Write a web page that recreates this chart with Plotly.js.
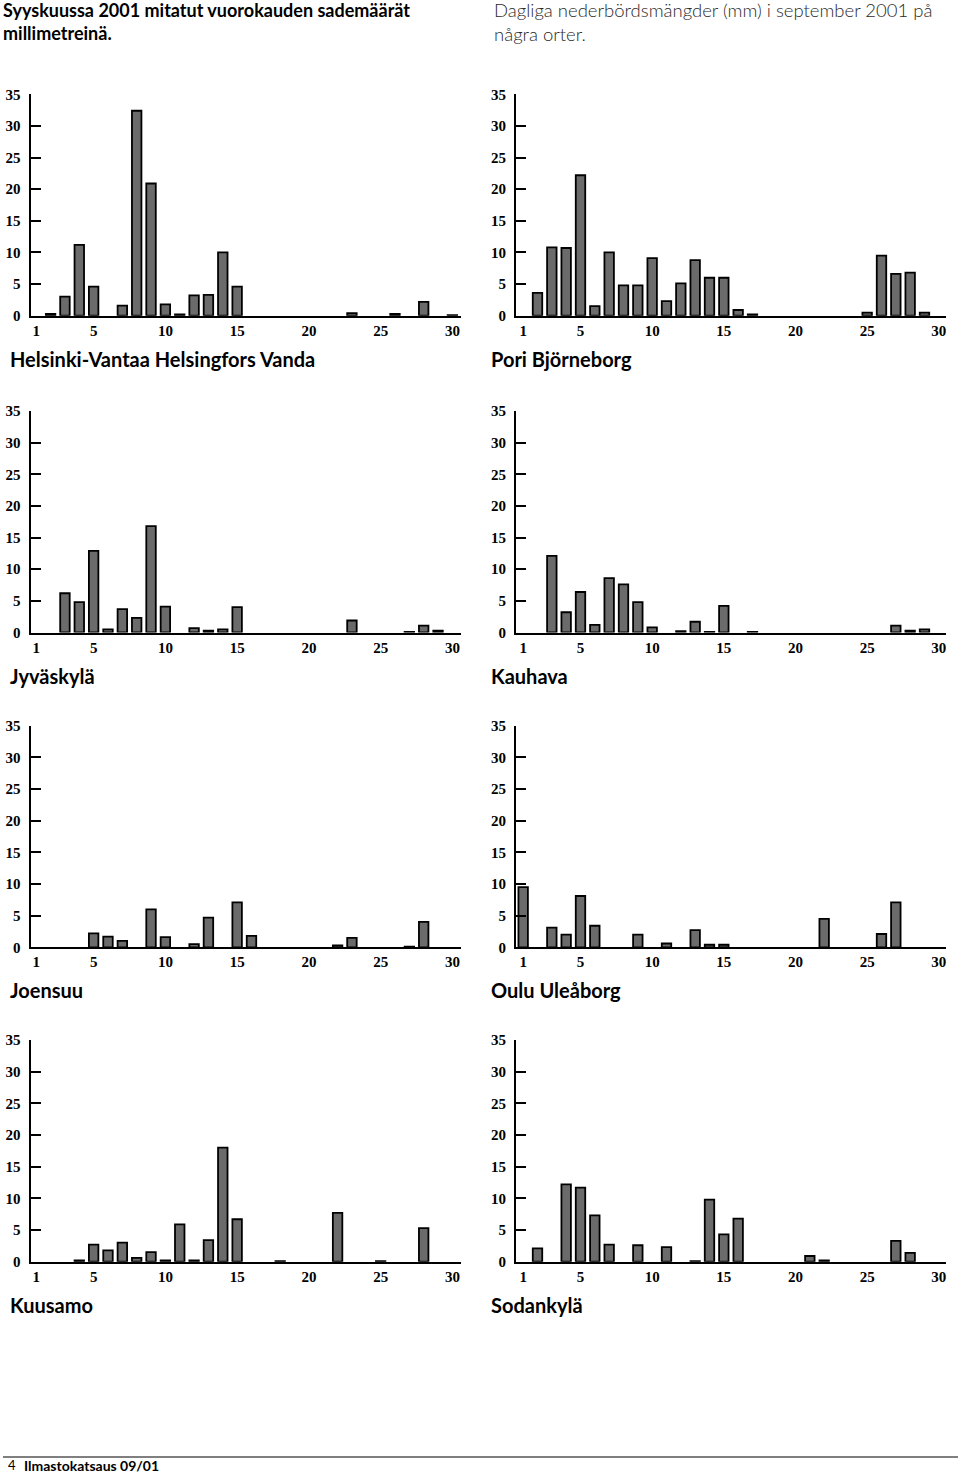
<!DOCTYPE html>
<html>
<head>
<meta charset="utf-8">
<script src="https://cdn.plot.ly/plotly-3.0.1.min.js"></script>
<style>
  html, body { margin: 0; padding: 0; background: #fff; }
  #chart { width: 960px; height: 1474px; }
</style>
</head>
<body>
<div id="chart"></div>
<script>
// ---- DATA ----
const days = Array.from({length: 30}, (_, i) => i + 1);
const xTickVals = [1, 5, 10, 15, 20, 25, 30];
const yTickVals = [0, 5, 10, 15, 20, 25, 30, 35];

const stations = ["Helsinki-Vantaa Helsingfors Vanda", "Pori Björneborg", "Jyväskylä", "Kauhava",
                  "Joensuu", "Oulu Uleåborg", "Kuusamo", "Sodankylä"];

const helsinki  = [0, 0.3, 3.0, 11.2, 4.6, 0, 1.6, 32.4, 20.9, 1.8, 0.2, 3.2, 3.3, 10.0, 4.6, 0, 0, 0, 0, 0, 0, 0, 0.4, 0, 0, 0.3, 0, 2.2, 0, 0.1];
const pori      = [0, 3.6, 10.8, 10.7, 22.2, 1.5, 10.0, 4.8, 4.8, 9.1, 2.3, 5.1, 8.8, 6.0, 6.0, 0.9, 0.2, 0, 0, 0, 0, 0, 0, 0, 0.5, 9.5, 6.6, 6.8, 0.5, 0];
const jyvaskyla = [0, 0, 6.2, 4.8, 12.9, 0.5, 3.7, 2.3, 16.8, 4.1, 0, 0.7, 0.3, 0.5, 4.0, 0, 0, 0, 0, 0, 0, 0, 1.9, 0, 0, 0, 0.1, 1.1, 0.3, 0];
const kauhava   = [0, 0, 12.1, 3.2, 6.4, 1.2, 8.6, 7.6, 4.8, 0.8, 0, 0.2, 1.7, 0.1, 4.2, 0, 0.1, 0, 0, 0, 0, 0, 0, 0, 0, 0, 1.1, 0.3, 0.5, 0];
const joensuu   = [0, 0, 0, 0, 2.2, 1.7, 1.0, 0, 6.0, 1.6, 0, 0.5, 4.7, 0, 7.1, 1.8, 0, 0, 0, 0, 0, 0.3, 1.5, 0, 0, 0, 0.1, 4.0, 0, 0];
const oulu      = [9.5, 0, 3.1, 2.0, 8.1, 3.4, 0, 0, 2.0, 0, 0.6, 0, 2.7, 0.4, 0.4, 0, 0, 0, 0, 0, 0, 4.5, 0, 0, 0, 2.1, 7.1, 0, 0, 0];
const kuusamo   = [0, 0, 0, 0.2, 2.7, 1.8, 3.0, 0.6, 1.5, 0.2, 5.9, 0.2, 3.4, 18.0, 6.7, 0, 0, 0.1, 0, 0, 0, 7.7, 0, 0, 0.1, 0, 0, 5.3, 0, 0];
const sodankyla = [0, 2.1, 0, 12.2, 11.7, 7.3, 2.7, 0, 2.6, 0, 2.3, 0, 0.1, 9.8, 4.3, 6.8, 0, 0, 0, 0, 0.9, 0.2, 0, 0, 0, 0, 3.3, 1.4, 0, 0];

const series = [helsinki, pori, jyvaskyla, kauhava, joensuu, oulu, kuusamo, sodankyla];

const titleFiLines = ["Syyskuussa 2001 mitatut vuorokauden sademäärät", "millimetreinä."];
const titleSvLines = ["Dagliga nederbördsmängder (mm) i september 2001 på", "några orter."];
const footerNum = "4";
const footerText = "Ilmastokatsaus 09/01";

// ---- LAYOUT ----
const W = 960, H = 1474;
const px = v => v / W;
const py = v => 1 - v / H;

const cols = [{x0: 30.5, x1: 461, r0: 0.6, r1: 30.6, lab: 8},
              {x0: 516, x1: 946, r0: 0.5, r1: 30.5, lab: 489}];
const rows = [{zero: 315.7, top: 94.3}, {zero: 632.5, top: 411}, {zero: 947.3, top: 725.7}, {zero: 1261.7, top: 1040}];

const tickFont = {family: "Liberation Serif, DejaVu Serif, serif", size: 15, color: "#000", weight: "bold"};

const traces = [];
const layout = {
  width: W, height: H,
  margin: {l: 0, r: 0, t: 0, b: 0},
  paper_bgcolor: "#fff", plot_bgcolor: "rgba(0,0,0,0)",
  showlegend: false,
  bargap: 0,
  annotations: [],
  shapes: []
};

series.forEach((vals, i) => {
  const n = i + 1;
  const c = cols[i % 2], r = rows[Math.floor(i / 2)];
  const sfx = n === 1 ? "" : String(n);
  traces.push({
    type: "bar",
    x: days,
    y: vals.map(v => (v > 0 ? v : null)),   // dry days: no bar drawn
    xaxis: "x" + sfx, yaxis: "y" + sfx,
    width: 0.66,
    marker: {color: "#6b6b6b", line: {color: "#000", width: 1.8}},
    hoverinfo: "x+y"
  });
  layout["xaxis" + sfx] = {
    domain: [px(c.x0), px(c.x1)],
    range: [c.r0, c.r1],
    anchor: "y" + sfx,
    showline: true, linecolor: "#000", linewidth: 2,
    showgrid: false, zeroline: false,
    ticks: "", tickmode: "array", tickvals: xTickVals,
    ticklabelstandoff: 0,
    tickfont: tickFont, fixedrange: true
  };
  layout["yaxis" + sfx] = {
    domain: [py(r.zero), py(r.top)],
    range: [0, 35],
    anchor: "x" + sfx,
    showline: true, linecolor: "#000", linewidth: 2,
    showgrid: false, zeroline: false,
    ticks: "inside", ticklen: 10, tickwidth: 2, tickcolor: "#000",
    tickmode: "array", tickvals: yTickVals,
    ticklabelstandoff: 5,
    tickfont: tickFont, fixedrange: true
  };
  layout.annotations.push({
    xref: "paper", yref: "paper",
    x: px(c.lab), y: py(r.zero + 43),
    xanchor: "left", yanchor: "middle",
    text: stations[i], showarrow: false,
    font: {family: "Lato, Open Sans, sans-serif", size: 20, color: "#000", weight: "bold"}
  });
});

layout.annotations.push({
  xref: "paper", yref: "paper", x: px(1), y: py(-3), xanchor: "left", yanchor: "top", align: "left",
  text: titleFiLines.join("<br>"), showarrow: false,
  font: {family: "Lato, sans-serif", size: 18, color: "#000", weight: "bold"}
});
layout.annotations.push({
  xref: "paper", yref: "paper", x: px(492), y: py(-3), xanchor: "left", yanchor: "top", align: "left",
  text: titleSvLines.join("<br>"), showarrow: false,
  font: {family: "Lato, sans-serif", size: 18.5, color: "#2a2a2a", weight: 300}
});
layout.shapes.push({type: "line", xref: "paper", yref: "paper", x0: px(3), x1: px(958), y0: py(1457), y1: py(1457),
  line: {color: "#000", width: 1}});
layout.annotations.push({
  xref: "paper", yref: "paper", x: px(6), y: py(1465), xanchor: "left", yanchor: "middle",
  text: footerNum, showarrow: false, font: {family: "Lato, sans-serif", size: 13, color: "#000"}
});
layout.annotations.push({
  xref: "paper", yref: "paper", x: px(22), y: py(1465), xanchor: "left", yanchor: "middle",
  text: footerText, showarrow: false, font: {family: "Lato, sans-serif", size: 14, color: "#000", weight: "bold"}
});

Plotly.newPlot("chart", traces, layout, {staticPlot: true, displayModeBar: false});
</script>
</body>
</html>
